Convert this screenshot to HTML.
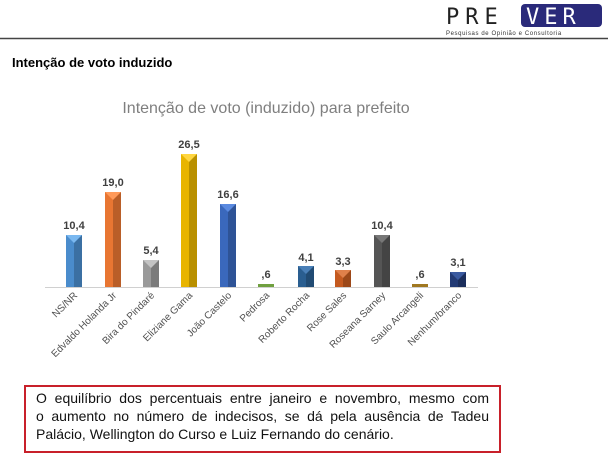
<!DOCTYPE html>
<html><head><meta charset="utf-8"><style>
body{margin:0;width:608px;height:474px;background:#fff;position:relative;overflow:hidden;font-family:"Liberation Sans",sans-serif}
.box{position:absolute;left:24px;top:385px;width:453px;height:62px;border:2px solid #c8202a;font-size:14px;line-height:18px;padding:2px 10px 0 10px;box-sizing:content-box;color:#111}
.box div{text-align:justify;text-align-last:justify;white-space:nowrap}
.box div.l{text-align-last:left}
</style></head><body>
<svg width="608" height="474" style="position:absolute;left:0;top:0" font-family="Liberation Sans, sans-serif">
<text x="446" y="24" font-size="22" fill="#222" letter-spacing="6" font-family="DejaVu Sans Mono, monospace">PRE</text>
<rect x="521" y="4" width="81" height="23" rx="4" fill="#2a2a7a"/>
<text x="526" y="24" font-size="22" fill="#fff" letter-spacing="5" font-family="DejaVu Sans Mono, monospace">VER</text>
<text x="446" y="35" font-size="6" fill="#333" letter-spacing="0.6">Pesquisas de Opinião e Consultoria</text>
<line x1="0" y1="38.5" x2="608" y2="38.5" stroke="#444" stroke-width="1.5"/>
<text x="12" y="67" font-size="13" font-weight="bold" fill="#000">Intenção de voto induzido</text>
<text x="266" y="113" font-size="16" fill="#7f7f7f" text-anchor="middle">Intenção de voto (induzido) para prefeito</text>
<line x1="45" y1="287.5" x2="478" y2="287.5" stroke="#d0d0d0"/>
<g font-size="11" font-weight="bold" fill="#404040" text-anchor="middle">
<text x="74" y="229">10,4</text><text x="113" y="186">19,0</text><text x="151" y="254">5,4</text>
<text x="189" y="148">26,5</text><text x="228" y="198">16,6</text><text x="266" y="278">,6</text>
<text x="306" y="261">4,1</text><text x="343" y="265">3,3</text><text x="382" y="229">10,4</text>
<text x="420" y="278">,6</text><text x="458" y="266">3,1</text>
</g>
<g>
<rect x="66" y="235" width="16" height="52" fill="#4a8ccc"/><rect x="74" y="235" width="8" height="52" fill="#000" opacity=".2"/><polygon points="66,235 82,235 74,243" fill="#7ab8f0"/>
<rect x="105" y="192" width="16" height="95" fill="#e87632"/><rect x="113" y="192" width="8" height="95" fill="#000" opacity=".2"/><polygon points="105,192 121,192 113,200" fill="#ff9a5a"/>
<rect x="143" y="260" width="16" height="27" fill="#9a9a9a"/><rect x="151" y="260" width="8" height="27" fill="#000" opacity=".2"/><polygon points="143,260 159,260 151,268" fill="#c4c4c4"/>
<rect x="181" y="154" width="16" height="133" fill="#e8b400"/><rect x="189" y="154" width="8" height="133" fill="#000" opacity=".2"/><polygon points="181,154 197,154 189,162" fill="#ffd640"/>
<rect x="220" y="204" width="16" height="83" fill="#3a68bc"/><rect x="228" y="204" width="8" height="83" fill="#000" opacity=".2"/><polygon points="220,204 236,204 228,212" fill="#5a8ae0"/>
<rect x="258" y="284" width="16" height="3" fill="#70a040"/>
<rect x="298" y="266" width="16" height="21" fill="#2a5e90"/><rect x="306" y="266" width="8" height="21" fill="#000" opacity=".2"/><polygon points="298,266 314,266 306,274" fill="#4a80b8"/>
<rect x="335" y="270" width="16" height="17" fill="#c45a20"/><rect x="343" y="270" width="8" height="17" fill="#000" opacity=".2"/><polygon points="335,270 351,270 343,278" fill="#e0804a"/>
<rect x="374" y="235" width="16" height="52" fill="#555"/><rect x="382" y="235" width="8" height="52" fill="#000" opacity=".2"/><polygon points="374,235 390,235 382,243" fill="#777"/>
<rect x="412" y="284" width="16" height="3" fill="#a07820"/>
<rect x="450" y="272" width="16" height="15" fill="#223a74"/><rect x="458" y="272" width="8" height="15" fill="#000" opacity=".2"/><polygon points="450,272 466,272 458,280" fill="#3a5aa0"/>
</g>
<g font-size="10" fill="#505050" text-anchor="end">
<text transform="translate(78,296) rotate(-45)">NS/NR</text>
<text transform="translate(117,296) rotate(-45)">Edvaldo Holanda Jr</text>
<text transform="translate(155,296) rotate(-45)">Bira do Pindaré</text>
<text transform="translate(193,296) rotate(-45)">Eliziane Gama</text>
<text transform="translate(232,296) rotate(-45)">João Castelo</text>
<text transform="translate(270,296) rotate(-45)">Pedrosa</text>
<text transform="translate(310,296) rotate(-45)">Roberto Rocha</text>
<text transform="translate(347,296) rotate(-45)">Rose Sales</text>
<text transform="translate(386,296) rotate(-45)">Roseana Sarney</text>
<text transform="translate(424,296) rotate(-45)">Saulo Arcangeli</text>
<text transform="translate(462,296) rotate(-45)">Nenhum/branco</text>
</g>
</svg>
<div class="box"><div>O equilíbrio dos percentuais entre janeiro e novembro, mesmo com</div><div>o aumento no número de indecisos, se dá pela ausência de Tadeu</div><div class="l">Palácio, Wellington do Curso e Luiz Fernando do cenário.</div></div>
</body></html>
